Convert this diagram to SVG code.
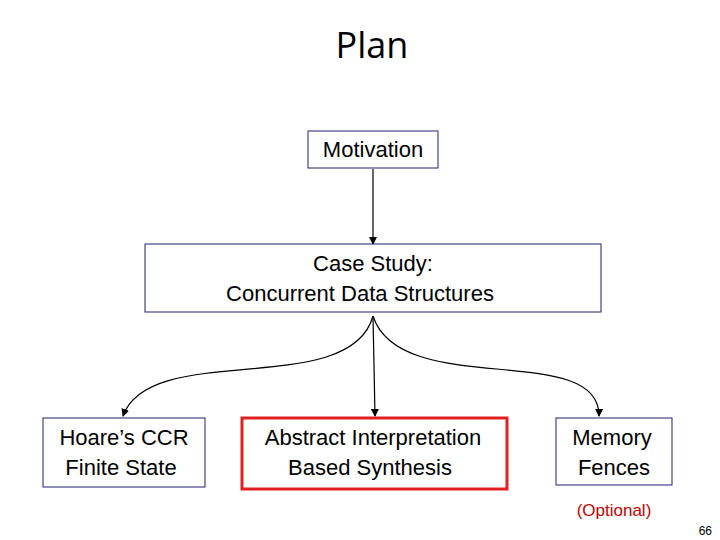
<svg xmlns="http://www.w3.org/2000/svg" width="720" height="540" viewBox="0 0 720 540">
<style>
.b{fill:#fff;stroke:#1f1f6f;stroke-width:1}
.t{font-family:"Liberation Sans",Arial,sans-serif;font-size:22px;fill:#000;text-anchor:middle}
.c{fill:none;stroke:#000;stroke-width:1.2}
</style>
<defs><marker id="a" markerWidth="8" markerHeight="8" refX="7" refY="4" orient="auto" markerUnits="userSpaceOnUse"><path d="M0,0 L8,4 L0,8 z" fill="#000"/></marker></defs>
<rect width="720" height="540" fill="#fff"/>
<text x="372" y="58" font-family="'Open Sans','Liberation Sans',sans-serif" font-size="36" text-anchor="middle">Plan</text>
<g id="connectors">
<path class="c" d="M373,169 L373,244" marker-end="url(#a)"/>
<path class="c" d="M373,316 L375,416" marker-end="url(#a)"/>
<path class="c" d="M373,316 C350,400 150,340 123,416" marker-end="url(#a)"/>
<path class="c" d="M373,316 C400,400 600,340 599,416" marker-end="url(#a)"/>
</g>
<g id="motivation"><rect class="b" x="308" y="131" width="130" height="37"/><text class="t" x="373" y="157">Motivation</text></g>
<g id="case"><rect class="b" x="145" y="244" width="456" height="68"/><text class="t" x="373" y="271">Case Study:</text><text class="t" x="360" y="301">Concurrent Data Structures</text></g>
<g id="hoare"><rect class="b" x="43" y="418" width="162" height="69"/><text class="t" x="124" y="445">Hoare’s CCR</text><text class="t" x="121" y="475">Finite State</text></g>
<g id="ai"><rect x="242" y="418" width="265" height="71" fill="#fff" stroke="#e02020" stroke-width="3"/><text class="t" x="373" y="445">Abstract Interpretation</text><text class="t" x="370" y="475">Based Synthesis</text></g>
<g id="mem"><rect class="b" x="556" y="418" width="116" height="67"/><text class="t" x="612" y="445">Memory</text><text class="t" x="614" y="475">Fences</text></g>
<text x="614" y="516" font-family="'Liberation Sans',Arial,sans-serif" font-size="17" fill="#c00000" text-anchor="middle">(Optional)</text>
<text x="712" y="535" font-family="'Liberation Sans',Arial,sans-serif" font-size="12" text-anchor="end">66</text>
</svg>
